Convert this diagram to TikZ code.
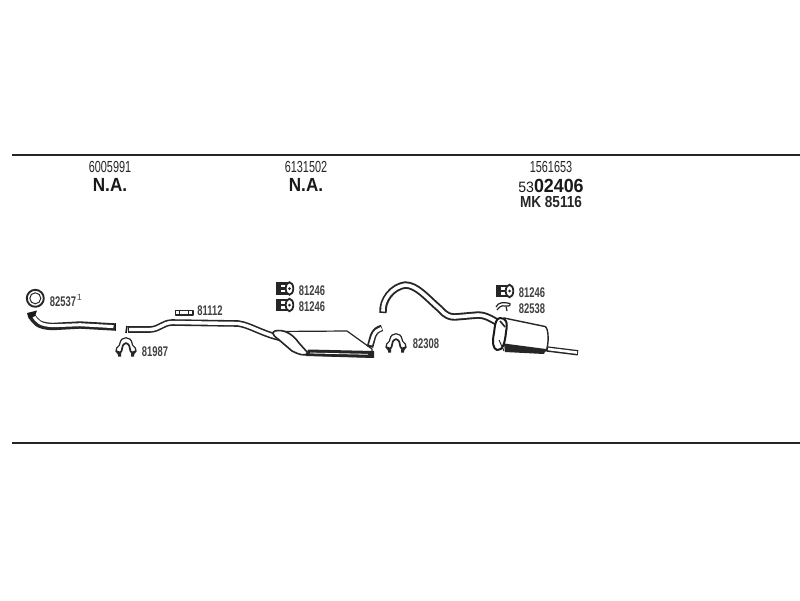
\documentclass[tikz,border=0pt]{standalone}
\usepackage{fontspec}
\setmainfont{Liberation Sans}
\tikzset{
  x=1pt,y=-1pt,
  rule/.style={line width=1.7pt,black!85},
  small/.style={inner sep=0,font=\fontsize{16}{16}\selectfont,xscale=.68,transform shape,text=black!85},
  bold/.style={inner sep=0,font=\fontsize{19}{19}\selectfont\bfseries,xscale=.9,transform shape,text=black!90},
  part/.style={inner sep=0,font=\fontsize{14}{14}\selectfont\bfseries,xscale=.67,transform shape,text=black!75},
  ink/.style={draw=black!85,line width=1pt,line join=round},
  pipeO/.style={line width=7.4pt,black!85,line join=round},
  pipeI/.style={line width=3.6pt,white,line join=round},
  clampbody/.pic={
    \draw[ink,line width=1.2pt] (-7,8) -- (-10,4) .. controls (-10,-1) and (-6,0) .. (-6,-4) .. controls (-5,-11) and (5,-11) .. (6,-4) .. controls (6,0) and (10,-1) .. (10,4) -- (7,8);
    \draw[ink,line width=1.7pt] (-10,4) .. controls (-5,6.5) and (-4.5,5) .. (-4,2) .. controls (-3,-6) and (3,-6) .. (4,2) .. controls (4.5,5) and (5,6.5) .. (10,4);
    \fill[black!85] (-8,5) rectangle (-5,9.5) (5,5) rectangle (8,9.5);
  },
  hanger/.pic={
    \draw[black!85,line width=2.6pt] (-9,-5) -- (3,-5) (-9,0) -- (3,0) (-9,5) -- (3,5);
    \fill[black!85] (-9,-6.2) rectangle (-4,6.2);
    \filldraw[fill=white,draw=black!85,line width=1.8pt] (4.5,0) ellipse (3.8 and 6.2);
    \fill[black!85] (4.5,0) circle (1.5);
  }
}
\begin{document}
\begin{tikzpicture}
\useasboundingbox (0,0) rectangle (800,600);
\fill[white] (0,0) rectangle (800,600);
\draw[rule] (12,155) -- (800,155);
\draw[rule] (12,443) -- (800,443);

\node[small] (a1) at (110,167) {6005991};
\node[bold] (a2) at (110,185) {N.A.};
\node[small] (b1) at (306,167) {6131502};
\node[bold] (b2) at (306,185) {N.A.};
\node[small] (c1) at (551,167) {1561653};
\node[inner sep=0,xscale=.94,transform shape,text=black!90] (c2) at (551,185.5) {{\fontsize{15}{15}\selectfont 53}{\fontsize{19}{19}\selectfont\bfseries 02406}};
\node[inner sep=0,font=\fontsize{16}{16}\selectfont\bfseries,xscale=.85,transform shape,text=black!85] (c3) at (551,202) {MK 85116};

% first pipe
\draw[ink,line width=1.9pt] (35.3,298.3) circle (8.5);
\draw[ink,line width=1pt] (35.3,298.3) circle (5.5);
\draw[pipeO] (31,314) .. controls (35,322) and (38,326) .. (53,326.5) -- (80,325) -- (115,327);
\draw[pipeI,line width=3pt] (33,315) .. controls (37,322) and (40,325) .. (53,325.7) -- (80,324.7) -- (113.5,326.6);
\fill[black!90] (27,313) -- (37,310.5) -- (35,316) -- (29,319) -- cycle;
\draw[black!90,line width=1.8pt] (115.5,323) -- (115.5,331);
\node[part] (l1) at (63,302) {82537};
\node[inner sep=0,font=\fontsize{9}{9}\selectfont,text=black!70] (l1s) at (79.5,297) {1};

% second pipe
\draw[pipeO,line width=6.6pt] (128,329.5) -- (150,329.5) .. controls (160,329) and (162,323) .. (172,322.5) -- (238,323.5) .. controls (250,325) and (262,334) .. (283,338.5);
\draw[pipeI,line width=3.4pt] (129,329.5) -- (150,329.5) .. controls (160,329) and (162,323) .. (172,322.5) -- (238,323.5) .. controls (250,325) and (262,334) .. (283,338.5);
\draw[black!90,line width=1.6pt] (127,326) -- (126,333);
\draw[ink,fill=white,line width=1.1pt] (175.5,310.5) rectangle (193,315);
\draw[black!85,line width=.7pt] (179,310.5) -- (179,315) (188,310.5) -- (188,315);
\node[part] (l2) at (210,311) {81112};
\pic at (126,347) {clampbody};
\node[part] (l3) at (155,352) {81987};

% first silencer
\filldraw[fill=white,draw=black!85,line width=1.2pt,line join=round] (276,331.5) -- (347,331) -- (372,349) -- (372,357) -- (306,355) -- cycle;
\filldraw[fill=white,draw=black!85,line width=1.6pt,line join=round] (275,331) .. controls (283,329) and (292,333) .. (299,343) -- (308,353) .. controls (305,357) and (298,354) .. (292,351) -- (278,339) .. controls (272,335) and (272,332) .. (275,331);
\fill[black!85] (308,349.5) -- (374,351) -- (374,358) -- (306,356) -- cycle;
\draw[white,line width=.8pt] (310,353) -- (368,354.3);
\draw[pipeO,line width=6.6pt] (370,347) -- (373,336) .. controls (375,331) and (378,329) .. (382,328);
\draw[pipeI,line width=3.2pt] (370.5,345) -- (373.3,336) .. controls (375,331.5) and (378,329.5) .. (381.5,328.5);

\pic at (285,288.5) {hanger};
\pic at (285,305) {hanger};
\node[part] (l4) at (312,291) {81246};
\node[part] (l5) at (312,307) {81246};
\pic at (396,343) {clampbody};
\node[part] (l6) at (426,344) {82308};

% third pipe
\draw[pipeO] (383,313) .. controls (382,300) and (392,287) .. (405,285) .. controls (417,285) and (427,298) .. (440,309) .. controls (446,316) and (450,317) .. (455,317) -- (478,315) .. controls (488,315) and (495,322) .. (503,325);
\draw[pipeI] (383,311.5) .. controls (382,300) and (392,287) .. (405,285) .. controls (417,285) and (427,298) .. (440,309) .. controls (446,316) and (450,317) .. (455,317) -- (478,315) .. controls (488,315) and (495,322) .. (503,325);

% rear silencer
\draw[pipeO,line width=5.4pt] (547,349) -- (578,352.8);
\draw[pipeI,line width=2.6pt] (548,349) -- (577,352.6);
\filldraw[fill=white,draw=black!85,line width=1.4pt,line join=round] (504,318) -- (545,326.5) .. controls (549,328) and (549,345) .. (546,351) -- (504,345) -- cycle;
\fill[black!85] (504,343.5) -- (546,349) -- (544,354) -- (505,352) -- cycle;
\filldraw[fill=white,draw=black!90,line width=2pt,line join=round] (500,318) .. controls (506,318) and (508,322) .. (506,332) .. controls (505,342) and (503,351) .. (497,350) .. controls (493,349) and (492,342) .. (494,333) .. controls (495,324) and (496,318) .. (500,318);
\draw[black!85,line width=1.6pt] (500,321) -- (505,327);
\draw[black!85,line width=1pt] (499,340) -- (504,351);

\pic at (505,291) {hanger};
\draw[ink,line width=1.2pt] (496,307) .. controls (498,302) and (504,302) .. (510,303.5) .. controls (511,306) and (507,307) .. (505,306) .. controls (502,305) and (499,307) .. (497,310);
\draw[ink,line width=1.2pt] (506,306.5) -- (507,311);
\node[part] (l7) at (532,293) {81246};
\node[part] (l8) at (532,309) {82538};
\end{tikzpicture}
\end{document}
